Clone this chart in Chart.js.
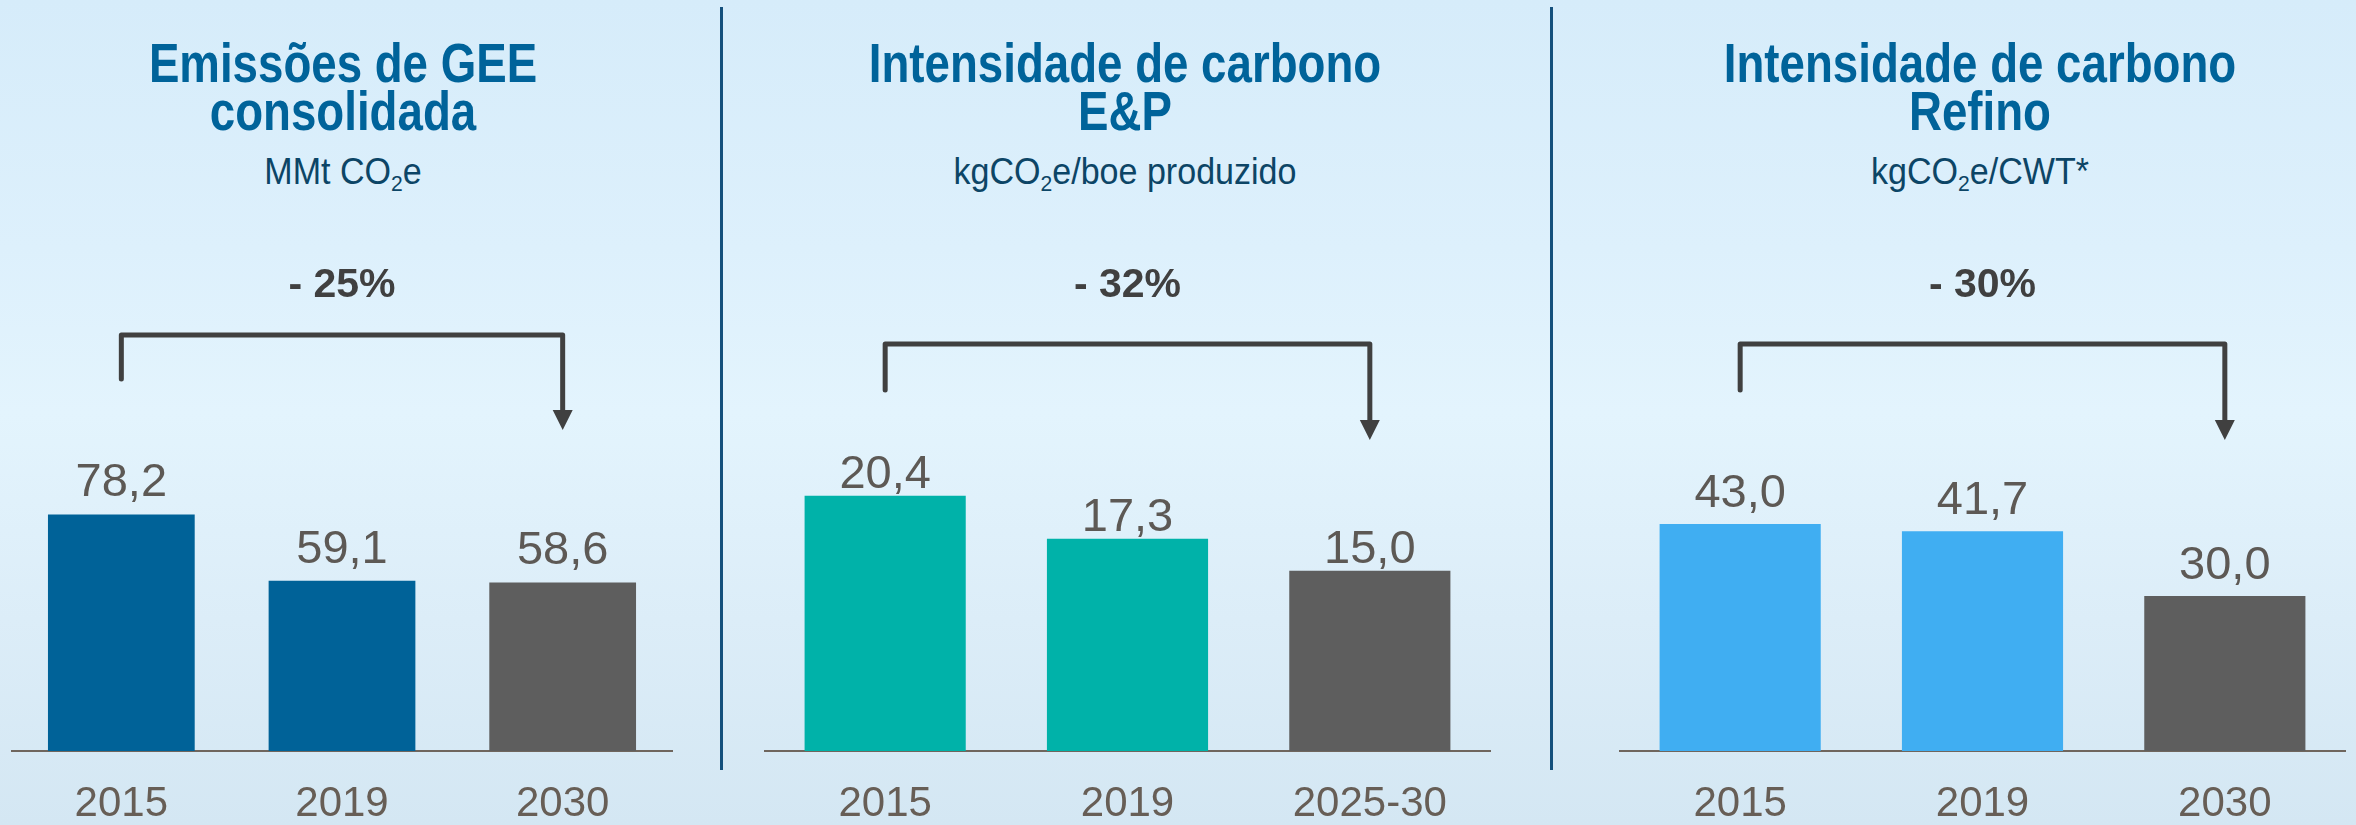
<!DOCTYPE html>
<html>
<head>
<meta charset="utf-8">
<script src="https://cdn.jsdelivr.net/npm/chart.js@4.4.1/dist/chart.umd.min.js"></script>
<style>
    body {
        margin: 0;
        width: 2356px;
        height: 825px;
        overflow: hidden;
        position: relative;
        background: linear-gradient(180deg, #d6ecfa 0%, #ddf0fc 30%, #e3f4fd 50%, #dcedf8 75%, #d4e7f3 100%);
        font-family: "Liberation Sans", Arial, sans-serif;
    }
    .divider {
        position: absolute;
        top: 7px;
        width: 3px;
        height: 763px;
        background: #14507c;
    }
    .head {
        position: absolute;
        width: 700px;
        text-align: center;
    }
    .title {
        position: absolute;
        top: 39px;
        width: 100%;
        font-weight: bold;
        font-size: 55px;
        line-height: 48px;
        color: #00639a;
        transform: scaleX(0.83);
    }
    .unit {
        position: absolute;
        top: 153px;
        width: 100%;
        font-size: 37px;
        line-height: 38px;
        color: #0c4566;
        transform: scaleX(0.92);
    }
    .unit sub {
        font-size: 0.62em;
        vertical-align: -0.3em;
        line-height: 0;
    }
    canvas {
        position: absolute;
        top: 230px;
    }
</style>
</head>
<body>
<div class="divider" style="left:720px"></div>
<div class="divider" style="left:1550px"></div>
<div id="heads"></div>
<canvas id="chart1" width="662" height="595" style="left:11px"></canvas>
<canvas id="chart2" width="727" height="595" style="left:764px"></canvas>
<canvas id="chart3" width="727" height="595" style="left:1619px"></canvas>

<script>
// data
const categories = [
    ["2015", "2019", "2030"],
    ["2015", "2019", "2025-30"],
    ["2015", "2019", "2030"]
];
const ghgEmissions = [78.2, 59.1, 58.6];
const epIntensity = [20.4, 17.3, 15.0];
const refiningIntensity = [43.0, 41.7, 30.0];
const reductions = ["- 25%", "- 32%", "- 30%"];
const titles = [
    ["Emissões de GEE", "consolidada"],
    ["Intensidade de carbono", "E&amp;P"],
    ["Intensidade de carbono", "Refino"]
];
const units = [
    "MMt CO<sub>2</sub>e",
    "kgCO<sub>2</sub>e/boe produzido",
    "kgCO<sub>2</sub>e/CWT*"
];
// value axis range for each panel (bars do not start at zero)
const axisMin = [10, 2, 2];
const axisMax = [111.2, 27.3, 65.4];

const TARGET_GRAY = "#5e5e5e";
const TEXT_GRAY = "#5d5955";

/**
 * Headers (titles + units)
 */
function renderHeads() {
    const centers = [343, 1125, 1980];
    const holder = document.getElementById("heads");
    titles.forEach((t, i) => {
        const div = document.createElement("div");
        div.className = "head";
        div.style.left = (centers[i] - 350) + "px";
        div.innerHTML = `
            <div class="title">${t[0]}<br>${t[1]}</div>
            <div class="unit">${units[i]}</div>`;
        holder.appendChild(div);
    });
}

/**
 * Value labels, bracket arrow and percentage
 */
const annotatePlugin = {
    id: "annotate",
    afterDatasetsDraw(chart, args, opts) {
        const ctx = chart.ctx;
        const meta = chart.getDatasetMeta(0);
        const values = chart.data.datasets[0].data;
        const top = chart.chartArea.top;

        ctx.save();
        ctx.font = "47px 'Liberation Sans', Arial, sans-serif";
        ctx.fillStyle = TEXT_GRAY;
        ctx.textAlign = "center";
        ctx.textBaseline = "alphabetic";
        meta.data.forEach((bar, i) => {
            ctx.fillText(values[i].toFixed(1).replace(".", ","), bar.x, bar.y - opts.labelGap);
        });

        // bracket from first to last bar
        const x1 = meta.data[0].x;
        const x2 = meta.data[meta.data.length - 1].x;
        const yLine = top + opts.lineY;
        const tip = top + opts.tipY;
        ctx.strokeStyle = "#404040";
        ctx.fillStyle = "#404040";
        ctx.lineWidth = 5;
        ctx.lineJoin = "round";
        ctx.lineCap = "round";
        ctx.beginPath();
        ctx.moveTo(x1, top + opts.footY);
        ctx.lineTo(x1, yLine);
        ctx.lineTo(x2, yLine);
        ctx.lineTo(x2, tip - 18);
        ctx.stroke();
        ctx.beginPath();
        ctx.moveTo(x2 - 10, tip - 20);
        ctx.lineTo(x2 + 10, tip - 20);
        ctx.lineTo(x2, tip);
        ctx.closePath();
        ctx.fill();

        ctx.font = "bold 41px 'Liberation Sans', Arial, sans-serif";
        ctx.fillText(opts.text, (x1 + x2) / 2, top + opts.textY);
        ctx.restore();
    }
};

function makeChart(id, labels, values, color, idx, extra) {
    const ctx = document.getElementById(id);
    new Chart(ctx, {
        type: "bar",
        data: {
            labels: labels,
            datasets: [{
                data: values,
                backgroundColor: values.map((v, i) => i === values.length - 1 ? TARGET_GRAY : color),
                borderWidth: 0,
                barPercentage: 0.665,
                categoryPercentage: 1
            }]
        },
        options: {
            responsive: false,
            animation: false,
            devicePixelRatio: 1,
            layout: { padding: { top: 170, left: 0, right: 0, bottom: 0 } },
            plugins: {
                legend: { display: false },
                tooltip: { enabled: false },
                annotate: Object.assign({ text: reductions[idx], textY: -103 }, extra)
            },
            scales: {
                x: {
                    grid: { display: true, drawOnChartArea: false, drawTicks: false },
                    border: { display: true, color: "#6f665e", width: 2 },
                    ticks: {
                        color: "#675e56",
                        font: { family: "'Liberation Sans', Arial, sans-serif", size: 42 },
                        padding: 28
                    },
                    afterFit: (scale) => { scale.height = 74; }
                },
                y: {
                    display: false,
                    min: axisMin[idx],
                    max: axisMax[idx]
                }
            }
        },
        plugins: [annotatePlugin]
    });
}

renderHeads();
makeChart("chart1", categories[0], ghgEmissions, "#006298", 0, { labelGap: 18, lineY: -65, footY: -21, tipY: 30 });
makeChart("chart2", categories[1], epIntensity, "#00b2a9", 1, { labelGap: 8, lineY: -56, footY: -10, tipY: 40 });
makeChart("chart3", categories[2], refiningIntensity, "#40aef2", 2, { labelGap: 17, lineY: -56, footY: -10, tipY: 40 });
</script>
</body>
</html>
